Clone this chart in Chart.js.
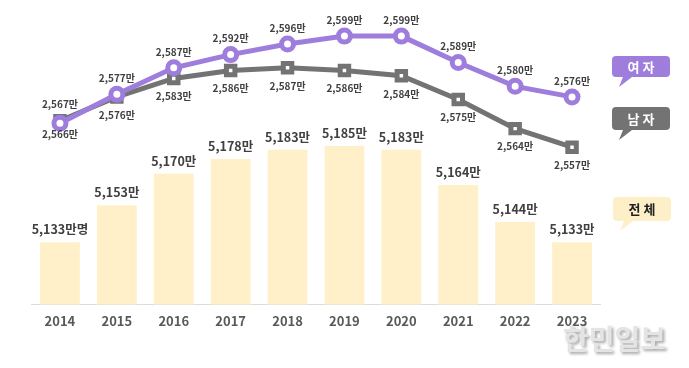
<!DOCTYPE html>
<html lang="ko">
<head>
<meta charset="utf-8">
<title>인구 추이 2014-2023</title>
<script src="https://cdn.jsdelivr.net/npm/chart.js@4.4.1/dist/chart.umd.min.js"></script>
<style>
  html, body { margin: 0; padding: 0; background: #fff; }
  #wrap { width: 689px; height: 368px; position: relative; }
</style>
</head>
<body>
<div id="wrap"><canvas id="popChart" width="689" height="368"></canvas></div>
<script>
// Data (단위: 만명)
const years = ['2014','2015','2016','2017','2018','2019','2020','2021','2022','2023'];
const totalPop = [5133, 5153, 5170, 5178, 5183, 5185, 5183, 5164, 5144, 5133];
const femalePop = [2566, 2577, 2587, 2592, 2596, 2599, 2599, 2589, 2580, 2576];
const malePop = [2567, 2576, 2583, 2586, 2587, 2586, 2584, 2575, 2564, 2557];

const FONT = '"Noto Sans CJK KR", "Noto Sans", sans-serif';
const PURPLE = '#9f7ddc';
const GREY = '#737373';
const CREAM = '#fff0c9';
const TEXT = '#404040';

function fmt(v) { return v.toLocaleString('en-US') + '만'; }

// value labels over bars and points
const valueLabels = {
  id: 'valueLabels',
  afterDatasetsDraw(chart) {
    const ctx = chart.ctx;
    ctx.save();
    ctx.textAlign = 'center';
    ctx.textBaseline = 'middle';
    ctx.fillStyle = TEXT;

    // bars
    ctx.font = 'bold 12.5px ' + FONT;
    chart.getDatasetMeta(0).data.forEach((bar, i) => {
      const txt = fmt(totalPop[i]) + (i === 0 ? '명' : '');
      ctx.fillText(txt, bar.x, bar.y - 13);
    });

    ctx.font = 'bold 10px ' + FONT;
    // female: above, except first
    chart.getDatasetMeta(1).data.forEach((pt, i) => {
      const dy = i === 0 ? 11 : -16;
      ctx.fillText(fmt(femalePop[i]), pt.x, pt.y + dy);
    });
    // male: below, except first
    chart.getDatasetMeta(2).data.forEach((pt, i) => {
      const dy = i === 0 ? -16 : 18;
      ctx.fillText(fmt(malePop[i]), pt.x, pt.y + dy);
    });
    ctx.restore();
  }
};

// speech-bubble badges + watermark
function bubble(ctx, x, y, w, h, fill, text, color) {
  const r = 4;
  ctx.fillStyle = fill;
  ctx.beginPath();
  ctx.moveTo(x + r, y);
  ctx.lineTo(x + w - r, y);
  ctx.quadraticCurveTo(x + w, y, x + w, y + r);
  ctx.lineTo(x + w, y + h - r);
  ctx.quadraticCurveTo(x + w, y + h, x + w - r, y + h);
  ctx.lineTo(x + 20, y + h);
  ctx.lineTo(x + 7, y + h + 10);
  ctx.lineTo(x + 11, y + h);
  ctx.lineTo(x + r, y + h);
  ctx.quadraticCurveTo(x, y + h, x, y + h - r);
  ctx.lineTo(x, y + r);
  ctx.quadraticCurveTo(x, y, x + r, y);
  ctx.closePath();
  ctx.fill();
  ctx.fillStyle = color;
  ctx.font = 'bold 13px ' + FONT;
  ctx.textAlign = 'center';
  ctx.textBaseline = 'middle';
  ctx.fillText(text, x + w / 2, y + h / 2 + 0.5);
}

const decorations = {
  id: 'decorations',
  beforeDatasetsDraw(chart) {
    const ctx = chart.ctx;
    ctx.save();
    ctx.shadowColor = 'rgba(0,0,0,0.35)';
    ctx.shadowBlur = 3;
    ctx.shadowOffsetX = 2;
    ctx.shadowOffsetY = 2;
    ctx.fillStyle = '#e4e4e4';
    ctx.font = 'bold 28px ' + FONT;
    ctx.textAlign = 'left';
    ctx.textBaseline = 'middle';
    ctx.fillText('한민일보', 563, 339);
    ctx.restore();
  },
  afterDraw(chart) {
    const ctx = chart.ctx;
    ctx.save();
    bubble(ctx, 612, 56, 58, 21, PURPLE, '여 자', '#fff');
    bubble(ctx, 612, 107, 58, 23, GREY, '남 자', '#fff');
    bubble(ctx, 613, 197, 58, 24, '#fdf0c8', '전 체', '#222');
    ctx.restore();
  }
};

new Chart(document.getElementById('popChart'), {
  data: {
    labels: years,
    datasets: [
      {
        type: 'bar', label: '전체', data: totalPop, yAxisID: 'yBar',
        backgroundColor: CREAM, borderWidth: 0,
        barPercentage: 0.7, categoryPercentage: 1, order: 2
      },
      {
        type: 'line', label: '여자', data: femalePop, yAxisID: 'yLine',
        borderColor: PURPLE, borderWidth: 5, tension: 0,
        pointStyle: 'circle', pointRadius: 6, pointBorderWidth: 5,
        pointBackgroundColor: '#fff', pointBorderColor: PURPLE, order: 0
      },
      {
        type: 'line', label: '남자', data: malePop, yAxisID: 'yLine',
        borderColor: GREY, borderWidth: 5, tension: 0,
        pointStyle: 'rect', pointRadius: 6, pointBorderWidth: 5,
        pointBackgroundColor: '#fff', pointBorderColor: GREY, order: 1
      }
    ]
  },
  options: {
    responsive: false,
    animation: false,
    layout: { padding: { left: 31.5, right: 88.5, top: 20, bottom: 38 } },
    plugins: { legend: { display: false }, tooltip: { enabled: false } },
    scales: {
      x: {
        offset: true,
        grid: { display: false },
        border: { display: true, color: '#dcdcdc', width: 1 },
        ticks: { color: '#595959', padding: 1, font: { family: FONT, size: 13, weight: 'bold' } }
      },
      yBar: { display: false, min: 5099.4, max: 5253.2 },
      yLine: { display: false, min: 2497.5, max: 2605.1 }
    }
  },
  plugins: [valueLabels, decorations]
});
</script>
</body>
</html>
